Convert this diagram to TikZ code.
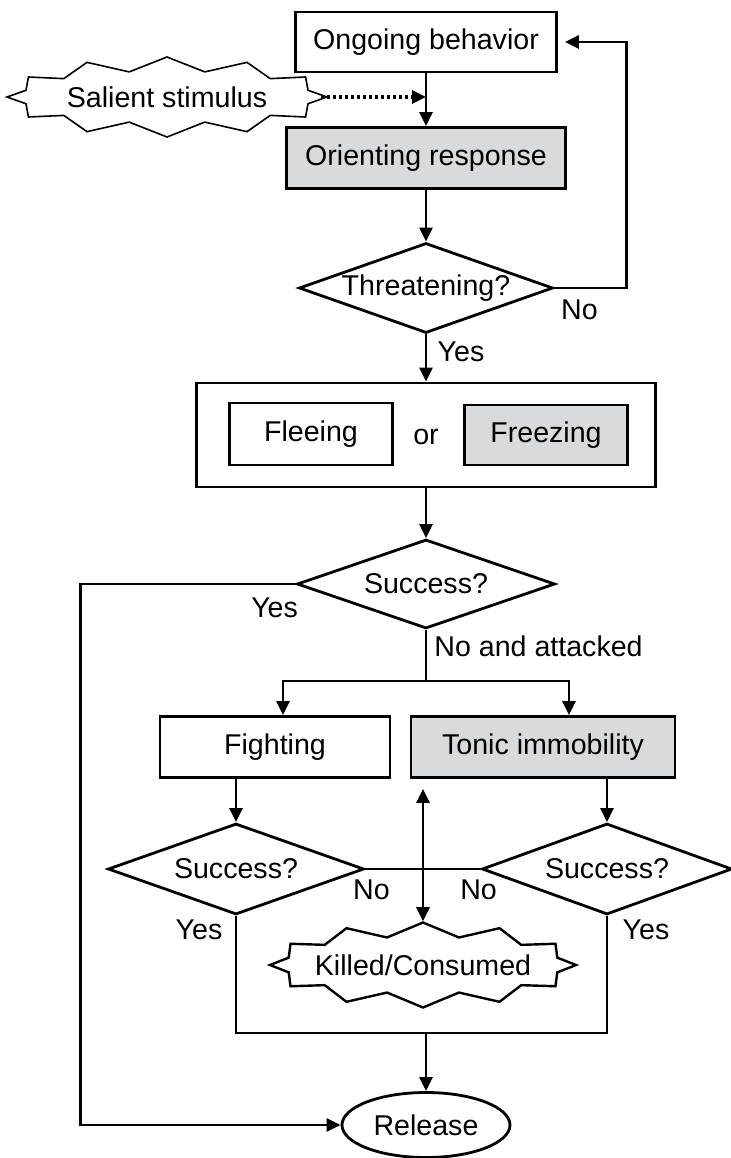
\documentclass[tikz,border=0pt]{standalone}
\usepackage{fontspec}
\setmainfont{Liberation Sans}
\usetikzlibrary{shapes.geometric,shapes.symbols,arrows.meta}
\definecolor{boxgray}{RGB}{217,218,219}

\begin{document}
\begin{tikzpicture}[
            x=0.5pt, y=-0.5pt,
            every node/.style={font=\fontsize{14.3}{17}\selectfont},
            box/.style={rectangle,draw,line width=1.4pt,inner sep=0pt},
            grey/.style={fill=boxgray},
            choice/.style={diamond,draw,line width=1.4pt,inner sep=0pt,aspect=2.8},
            burst/.style={starburst,draw,inner xsep=-10pt,inner ysep=0pt,starburst points=12,
                starburst point height=7pt,random starburst=0},
            flow/.style={line width=1.4pt,-{Triangle[length=7pt,width=6.5pt]}},
            link/.style={line width=1.4pt}
        ]
        \useasboundingbox (0,0) rectangle (731,1158);

        \node[box,minimum width=130.5pt,minimum height=30pt] (ongoing) at (426,42) {Ongoing behavior};
        \node[burst,line width=0.8pt,minimum width=160pt,minimum height=40pt] (salient) at (167,97) {Salient stimulus};
        \node[box,grey,minimum width=139.5pt,minimum height=30.5pt] (orient) at (426,158) {Orienting response};
        \node[choice,minimum width=127pt,minimum height=45pt] (threat) at (426,288) {Threatening?};
        \node[box,minimum width=229.5pt,minimum height=52pt] (flight) at (426,435) {};
        \node[box,minimum width=81.5pt,minimum height=31pt] (flee) at (311,434) {Fleeing};
        \node[yshift=-1pt] (or) at (flight) {or};
        \node[box,grey,minimum width=81.5pt,minimum height=30pt] (freeze) at (546,435) {Freezing};
        \node[choice,minimum width=129pt,minimum height=44.5pt] (success) at (426,584) {Success?};
        \node[box,minimum width=115pt,minimum height=30.5pt] (fight) at (275,747) {Fighting};
        \node[box,grey,minimum width=132pt,minimum height=30.5pt] (tonic) at (543,747) {Tonic immobility};
        \node[choice,minimum width=128pt,minimum height=45.5pt] (fsuccess) at (236,869) {Success?};
        \node[choice,minimum width=125pt,minimum height=45.5pt] (tsuccess) at (607,869) {Success?};
        \node[burst,line width=1.2pt,minimum width=153pt,minimum height=42.5pt] (killed) at (423,965) {Killed/Consumed};
        \node[ellipse,draw,line width=1.4pt,inner sep=0pt,minimum width=84pt,minimum height=32.5pt] (release) at (426,1125) {Release};

        \node[xshift=12.5pt,yshift=-11pt] (threatno) at (threat.east) {No};
        \node[xshift=17.5pt,yshift=-8.5pt] (threatyes) at (threat.south) {Yes};
        \node[xshift=-10.5pt,yshift=-12pt] (successyes) at (success.west) {Yes};
        \node[anchor=west,inner sep=0pt,xshift=4pt,yshift=-8pt] (attacked) at (success.south) {No and attacked};
        \node[xshift=3pt,yshift=-10.5pt] (fightno) at (fsuccess.east) {No};
        \node[xshift=-1pt,yshift=-10.5pt] (tonicno) at (tsuccess.west) {No};
        \node[xshift=-18.5pt,yshift=-7pt] (fightyes) at (fsuccess.south) {Yes};
        \node[xshift=19.5pt,yshift=-7pt] (tonicyes) at (tsuccess.south) {Yes};

        \coordinate (split) at (426,681);
        \coordinate (join) at (426,1033);

        \draw[flow] (ongoing) -- (orient);
        \draw[flow,line width=1.6pt,dash pattern=on 1.5pt off 1.5pt] ([xshift=-4pt]salient.east) -- (salient.east -| ongoing.south);
        \draw[flow] (orient) -- (threat);
        \draw[flow,shorten >=3.5pt] (threat.east) -- ++(72,0) |- (ongoing.east);
        \draw[flow] (threat) -- (flight);
        \draw[flow] (flight) -- (success);
        \draw[flow] (success.west) -- ++(-215,0) |- (release.west);
        \draw[link] (success.south) -- (split);
        \draw[flow] (split) -| ([xshift=4pt]fight.north);
        \draw[flow] (split) -| ([xshift=13pt]tonic.north);
        \draw[flow] (fsuccess.north |- fight.south) -- (fsuccess.north);
        \draw[flow] (tsuccess.north |- tonic.south) -- (tsuccess.north);
        \draw[link] (fsuccess.east) -- (tsuccess.west);
        \draw[line width=1.4pt,{Triangle[length=7pt,width=6.5pt]}-{Triangle[length=7pt,width=6.5pt]}] ([yshift=-5pt]killed.north |- tonic.south) -- (killed.north);
        \draw[link] (fsuccess.south) |- (join) -| (tsuccess.south);
        \draw[flow] (join) -- (release);
\end{tikzpicture}
\end{document}
